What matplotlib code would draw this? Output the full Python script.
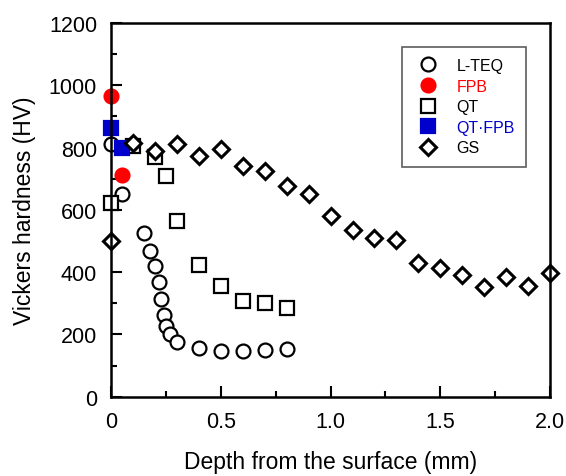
import numpy as np
import matplotlib.pyplot as plt
from matplotlib.ticker import MultipleLocator

plt.rcParams['font.family'] = ['Liberation Sans', 'DejaVu Sans']

# L-TEQ
lteq_x = [0, 0.05, 0.15, 0.18, 0.2, 0.22, 0.23, 0.24, 0.25, 0.27, 0.3, 0.4, 0.5, 0.6, 0.7, 0.8]
lteq_y = [810, 650, 525, 468, 420, 368, 315, 262, 228, 200, 175, 157, 148, 148, 150, 152]

# FPB
fpb_x = [0, 0.05]
fpb_y = [964, 713]

# QT
qt_x = [0, 0.1, 0.2, 0.25, 0.3, 0.4, 0.5, 0.6, 0.7, 0.8]
qt_y = [623, 806, 771, 710, 565, 422, 356, 309, 302, 284]

# QT-FPB
qtfpb_x = [0, 0.05]
qtfpb_y = [864, 797]

# GS
gs_x = [0, 0.1, 0.2, 0.3, 0.4, 0.5, 0.6, 0.7, 0.8, 0.9, 1.0, 1.1, 1.2, 1.3,
        1.4, 1.5, 1.6, 1.7, 1.8, 1.9, 2.0]
gs_y = [500, 816, 790, 810, 774, 794, 742, 726, 677, 652, 581, 536, 510, 504,
        430, 414, 392, 352, 385, 357, 398]

fig = plt.figure(figsize=(5.66, 4.77), dpi=100)
ax = fig.add_axes([0.196, 0.166, 0.776, 0.784])

ms = 10
mew = 1.6
ax.plot(lteq_x, lteq_y, 'o', ms=ms, mfc='white', mec='black', mew=mew, clip_on=False, label='L-TEQ')
ax.plot(fpb_x, fpb_y, 'o', ms=ms, mfc='red', mec='red', mew=mew, clip_on=False, label='FPB')
ax.plot(qt_x, qt_y, 's', ms=ms, mfc='white', mec='black', mew=mew, clip_on=False, label='QT')
ax.plot(qtfpb_x, qtfpb_y, 's', ms=ms, mfc='#0000cc', mec='#0000cc', mew=mew, clip_on=False, label='QT\u00b7FPB')
ax.plot(gs_x, gs_y, 'D', ms=8.5, mfc='white', mec='black', mew=2.2, clip_on=False, label='GS')

ax.set_xlim(0, 2.0)
ax.set_ylim(0, 1200)
ax.xaxis.set_major_locator(MultipleLocator(0.5))
ax.xaxis.set_minor_locator(MultipleLocator(0.25))
ax.yaxis.set_major_locator(MultipleLocator(200))
ax.yaxis.set_minor_locator(MultipleLocator(100))
ax.set_xticks([0, 0.5, 1.0, 1.5, 2.0])
ax.set_xticklabels(['0', '0.5', '1.0', '1.5', '2.0'])
ax.tick_params(which='both', direction='in', labelsize=15.5, width=1.5)
ax.tick_params(which='major', length=8, pad=10)
ax.tick_params(which='minor', length=4)
for s in ax.spines.values():
    s.set_linewidth(1.8)

ax.set_xlabel('Depth from the surface (mm)', fontsize=16.5, labelpad=13)
ax.set_ylabel('Vickers hardness (HV)', fontsize=16.5, labelpad=9)

leg = ax.legend(loc='upper right', bbox_to_anchor=(0.945, 0.936), borderaxespad=0,
                fontsize=11.5, frameon=True, fancybox=False, edgecolor='#333333',
                borderpad=0.7, handletextpad=0.9, labelspacing=0.35, handlelength=1.8,
                labelcolor=['black', 'red', 'black', '#0000cc', 'black'])
leg.get_frame().set_linewidth(1.2)

fig.savefig('out.png', dpi=100)
